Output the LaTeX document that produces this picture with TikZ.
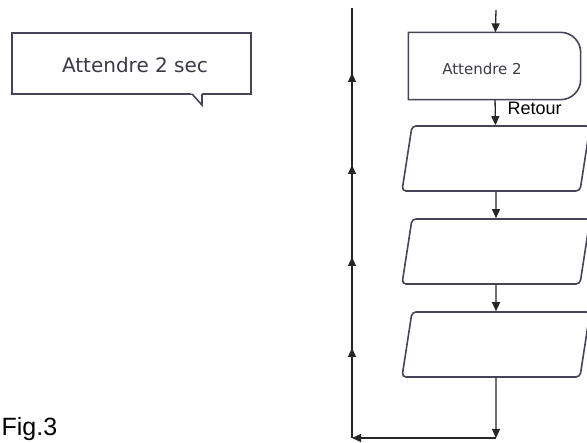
\documentclass[tikz,border=0pt]{standalone}
\usepackage{fontspec}
\setmainfont{Liberation Sans}
\newfontfamily\tahoma{DejaVu Sans}
\usetikzlibrary{arrows.meta,shapes.misc,decorations.markings}

\definecolor{bordure}{HTML}{45455A}
\definecolor{encre}{HTML}{3A3A48}

\begin{document}
\begin{tikzpicture}[x=1pt,y=-1pt,>={Triangle[length=9pt,width=8pt]},line width=1.3pt]
  \tikzstyle{bloc}=[draw=bordure,line width=1.6pt,rounded corners=4pt,minimum width=178pt,minimum height=65pt,inner sep=0pt,xslant=0.154,transform shape]
  \tikzstyle{fleche}=[->,black!85]
  \useasboundingbox (0,0) rectangle (587,443);

  % bulle
  \node[chamfered rectangle,chamfered rectangle xsep=5pt,chamfered rectangle ysep=5pt,draw=bordure,line width=1.6pt,minimum width=239pt,minimum height=61pt,inner sep=0pt] (bulle) at (131.5,63.5) {};
  \fill[white] (191,93) -- (202,105) -- (202,93) -- cycle;
  \draw[bordure,line width=1.6pt] (192,94) -- (202,105) -- (202,94);
  \node[text=encre,font=\tahoma\fontsize{20}{20}\selectfont] (txt_bulle) at (135,65) {Attendre 2 sec};

  % organigramme
  \node[minimum width=171pt,minimum height=66pt,inner sep=0pt] (b1) at (494.5,66) {};
  \draw[bordure,line width=1.6pt] (b1.south west) -- (b1.north west) [rounded corners=20pt] -- (b1.north east) -- (b1.south east) [sharp corners] -- cycle;
  \node[text=encre,font=\tahoma\fontsize{15}{15}\selectfont] (txt_b1) at (482,69) {Attendre 2};

  \node[bloc] (b2) at (496,158.5) {};
  \node[bloc] (b3) at (496,251.5) {};
  \node[bloc] (b4) at (496,344.5) {};

  \coordinate (entree) at (496,10);
  \coordinate (coin) at (496,438);
  \coordinate (bas) at (352,438);
  \coordinate (haut) at (352,8);

  \draw[fleche] (entree) -- (b1);
  \draw[fleche] (b1) -- (b2);
  \node[anchor=base west,inner sep=0pt,font=\fontsize{18}{18}\selectfont] (retour) at (507,115) {Retour};
  \draw[fleche] (b2) -- (b3);
  \draw[fleche] (b3) -- (b4);
  \draw[fleche] (b4) -- (coin);
  \draw[fleche] (coin) -- (bas);
  \draw[black!85,postaction=decorate,decoration={markings,
      mark=at position 90pt with {\arrow{>}},
      mark=at position 181pt with {\arrow{>}},
      mark=at position 273pt with {\arrow{>}},
      mark=at position 365pt with {\arrow{>}}}] (bas) -- (haut);

  \node[anchor=base west,inner sep=0pt,font=\fontsize{25}{25}\selectfont] (fig) at (1,436) {Fig.3};
\end{tikzpicture}
\end{document}
